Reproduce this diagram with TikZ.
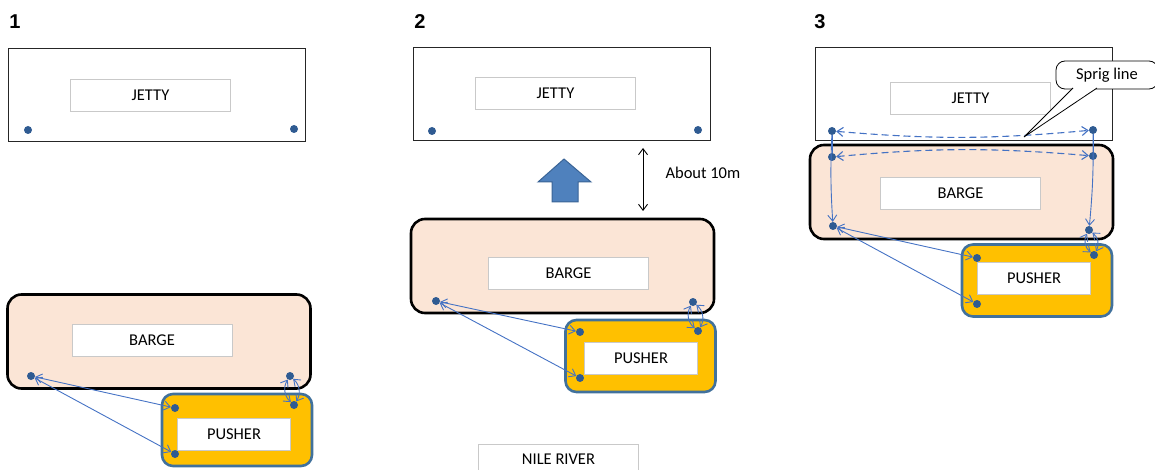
\documentclass[tikz,border=0pt]{standalone}
\usepackage{fontspec}
\setmainfont{Carlito}
\newfontfamily\numfont{Liberation Sans}
\usetikzlibrary{arrows.meta}
\definecolor{bargefill}{HTML}{FBE5D6}
\definecolor{pusherfill}{HTML}{FFC000}
\definecolor{pusherline}{HTML}{41719C}
\definecolor{bittcolor}{HTML}{2F5B92}
\definecolor{ropecolor}{HTML}{4472C4}
\definecolor{tagline}{HTML}{C9C9C9}
\definecolor{arrowfill}{HTML}{4F81BD}
\definecolor{arrowline}{HTML}{3A6496}
\tikzset{
  jetty/.style={draw=black!85, line width=0.9pt, minimum width=297, minimum height=93},
  barge/.style={draw, line width=2.6pt, rounded corners=14pt, fill=bargefill, minimum width=303, minimum height=94},
  pusher/.style={draw=pusherline, line width=2.6pt, rounded corners=11pt, fill=pusherfill, minimum width=150, minimum height=72},
  tag/.style={draw=tagline, fill=white, line width=0.8pt, inner sep=0, minimum width=160, minimum height=32},
  ptag/.style={tag, minimum width=113},
  bitt/.style={circle, fill=bittcolor, inner sep=0, minimum size=8},
  num/.style={font=\numfont\bfseries\fontsize{20}{22}\selectfont},
  rope/.style={draw=ropecolor, line width=0.9pt},
  spring/.style={rope, dashed, dash pattern=on 7pt off 4pt, line width=1.1pt}
}
\begin{document}
\begin{tikzpicture}[x=1pt, y=-1pt, >={Straight Barb[length=6pt,width=9pt]},
  font=\fontsize{16.5}{19}\selectfont]
\useasboundingbox (0,0) rectangle (1155,470);
% 1
\node[num] (n1) at (15,22) {1};
\node[jetty] (J1) at (156.5,94.5) {};
\node[tag] (J1t) at (150.5,95) {JETTY};
\node[bitt] (j1l) at (28,130) {};
\node[bitt] (j1r) at (294,129) {};
\node[barge] (B1) at (159,341.5) {};
\node[tag] (B1t) at (152,340) {BARGE};
\node[bitt] (b1l) at (31,376) {};
\node[bitt] (b1r) at (290,376) {};
\node[pusher] (P1) at (237,430) {};
\node[ptag] (P1t) at (234,434.5) {PUSHER};
\node[bitt] (p1a) at (175,408) {};
\node[bitt] (p1b) at (294,405) {};
\node[bitt] (p1c) at (175,454) {};
\draw[rope, <->] (b1l) -- (p1a);
\draw[rope, <->] (b1l) -- (p1c);
\draw[rope, <->] (b1r) to[bend left=40] (p1b);
\draw[rope, <->] (b1r) to[bend right=40] (p1b);
% 2
\node[num] (n2) at (420,22) {2};
\node[jetty] (J2) at (561.5,94) {};
\node[tag] (J2t) at (555.5,93) {JETTY};
\node[bitt] (j2l) at (432,131) {};
\node[bitt] (j2r) at (698,130) {};
\draw[fill=arrowfill, draw=arrowline, line width=1pt]
  (552,202) -- (552,182) -- (538,182) -- (564,159) -- (591,182) -- (578,182) -- (578,202) -- cycle;
\coordinate (D1) at (643,148);
\coordinate (D2) at (643,211);
\draw[<->, line width=0.9pt] (D1) -- (D2);
\node[anchor=west] (dist) at (662,173) {About 10m};
\node[barge] (B2) at (562.5,266) {};
\node[tag] (B2t) at (568.5,273.5) {BARGE};
\node[bitt] (b2l) at (436,301) {};
\node[bitt] (b2r) at (693,302) {};
\node[pusher] (P2) at (640.5,356) {};
\node[ptag] (P2t) at (641,358) {PUSHER};
\node[bitt] (p2a) at (580,332) {};
\node[bitt] (p2b) at (698,331) {};
\node[bitt] (p2c) at (580,378) {};
\draw[rope, <->] (b2l) -- (p2a);
\draw[rope, <->] (b2l) -- (p2c);
\draw[rope, <->] (b2r) to[bend left=40] (p2b);
\draw[rope, <->] (b2r) to[bend right=40] (p2b);
\node[tag, minimum height=31] (river) at (558.5,459.5) {NILE RIVER};
% 3
\node[num] (n3) at (820,22) {3};
\node[jetty] (J3) at (964,94) {};
\node[tag] (J3t) at (970.5,98) {JETTY};
\node[bitt] (j3l) at (832,131) {};
\node[bitt] (j3r) at (1093,130) {};
\node[barge] (B3) at (961.5,192) {};
\node[tag] (B3t) at (960.5,193) {BARGE};
\node[bitt] (b3a) at (832,157) {};
\node[bitt] (b3b) at (1093,156) {};
\node[bitt] (b3c) at (833,226) {};
\node[bitt] (b3d) at (1089,230) {};
\node[pusher] (P3) at (1037,280.5) {};
\node[ptag] (P3t) at (1034,278.5) {PUSHER};
\node[bitt] (p3a) at (977,258) {};
\node[bitt] (p3b) at (1094,255) {};
\node[bitt] (p3c) at (977,304) {};
\draw[spring, <->] (j3l) to[bend right=5] (j3r);
\draw[spring, <->] (b3a) to[bend left=5] (b3b);
\draw[rope, ->] (j3l) to[bend right=3] (b3c);
\draw[rope] (b3a) -- (j3l);
\draw[rope, ->] (j3r) to[bend left=3] (b3d);
\draw[rope] (b3b) -- (j3r);
\draw[rope, <->] (b3c) -- (p3a);
\draw[rope, <->] (b3c) -- (p3c);
\draw[rope, <->] (b3d) to[bend left=40] (p3b);
\draw[rope, <->] (b3d) to[bend right=40] (p3b);
\node[draw, fill=white, rounded corners=9pt, line width=0.8pt, minimum width=102, minimum height=28] (sprig) at (1107,75) {Sprig line};
\coordinate (S1) at (1073,88);
\coordinate (S2) at (1097,88);
\coordinate (ST) at (1024,137);
\fill[white] (S1) -- (ST) -- (S2) -- cycle;
\draw[line width=0.8pt] (S1) -- (ST) -- (S2);
\end{tikzpicture}
\end{document}
